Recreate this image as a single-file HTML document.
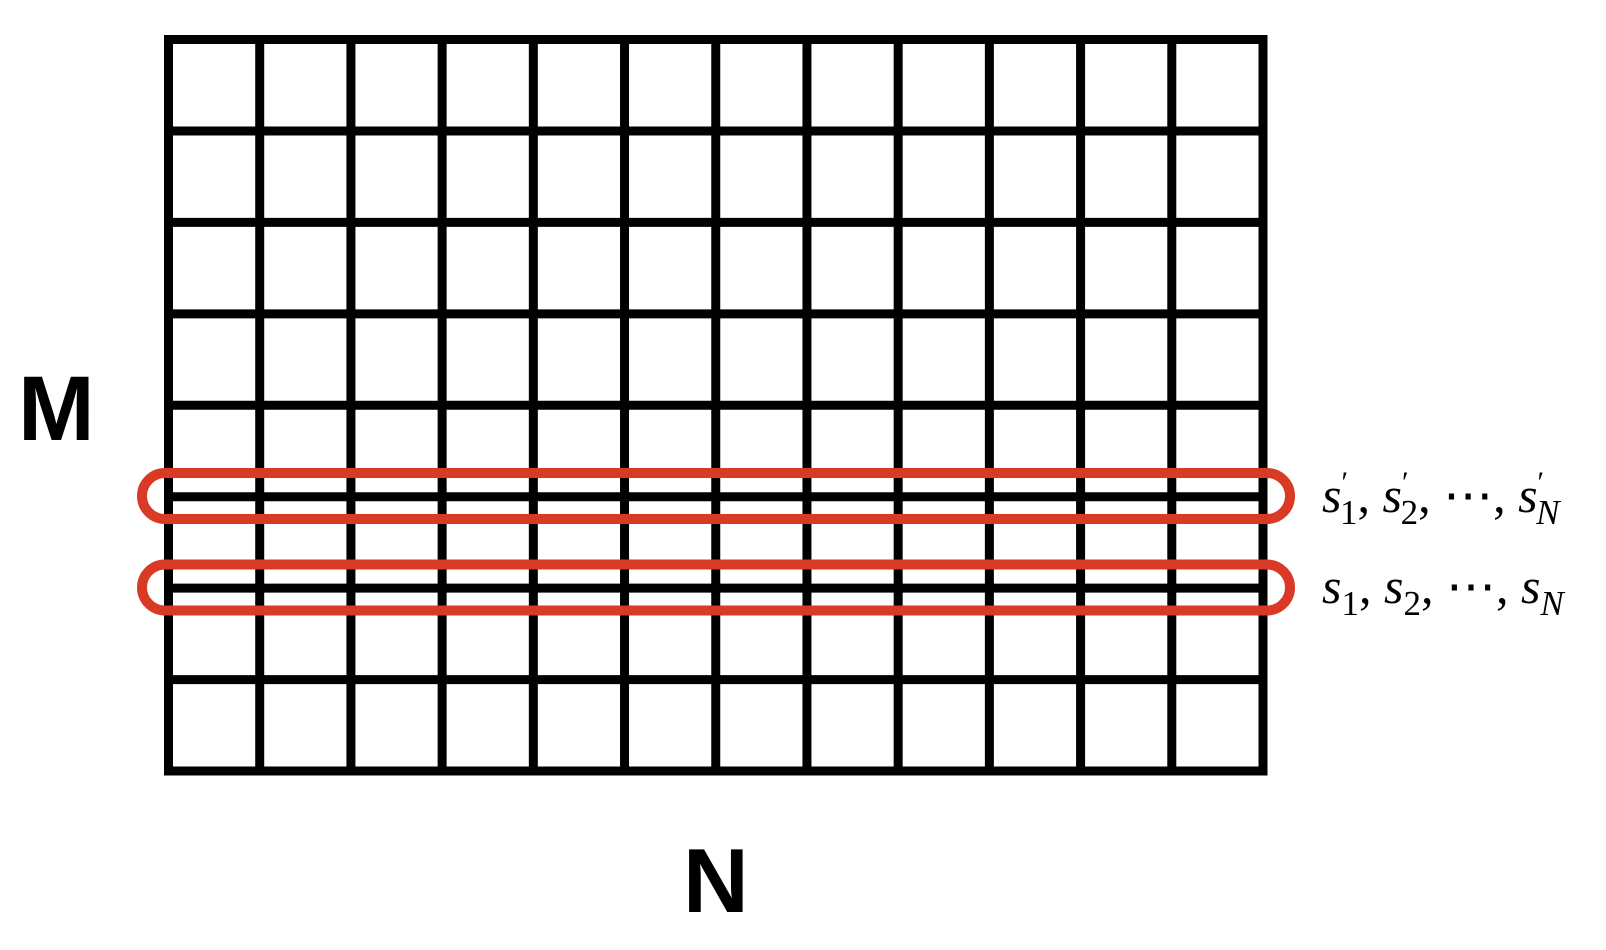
<!DOCTYPE html>
<html><head><meta charset="utf-8"><style>
html,body{margin:0;padding:0;background:#fff;}
svg{display:block;}
.lbl{font-family:"Liberation Serif","DejaVu Serif",serif;font-size:50px;}
</style></head><body>
<svg id="fig" width="1606" height="950" viewBox="0 0 1606 950" xmlns="http://www.w3.org/2000/svg">
  <g id="grid"></g>
  <rect x="142" y="473" width="1148" height="46" rx="23" ry="23" fill="none" stroke="#d93a26" stroke-width="10"/>
  <rect x="142" y="564.5" width="1148" height="46" rx="23" ry="23" fill="none" stroke="#d93a26" stroke-width="10"/>
  <text x="18" y="440" font-family="'Liberation Sans', sans-serif" font-weight="bold" font-size="92">M</text>
  <text x="683" y="912" font-family="'Liberation Sans', sans-serif" font-weight="bold" font-size="91">N</text>
  <text class="lbl" x="1322" y="512"><tspan font-style="italic">s</tspan><tspan dy="-20" font-size="30">′</tspan><tspan dx="-8" dy="32" font-size="35">1</tspan><tspan dy="-12">, </tspan><tspan font-style="italic">s</tspan><tspan dy="-20" font-size="30">′</tspan><tspan dx="-8" dy="32" font-size="35">2</tspan><tspan dy="-12">, ⋯, </tspan><tspan font-style="italic">s</tspan><tspan dy="-20" font-size="30">′</tspan><tspan dx="-8" dy="32" font-size="35" font-style="italic">N</tspan></text>
  <text class="lbl" x="1322" y="603"><tspan font-style="italic">s</tspan><tspan dy="12" font-size="35">1</tspan><tspan dy="-12">, </tspan><tspan font-style="italic">s</tspan><tspan dy="12" font-size="35">2</tspan><tspan dy="-12">, ⋯, </tspan><tspan font-style="italic">s</tspan><tspan dy="12" font-size="35" font-style="italic">N</tspan></text>
</svg>
<script>
const cols = 12;
const rows = 8;
const x0 = 168.5, x1 = 1263, y0 = 39.5, y1 = 771;
const g = document.getElementById('grid');
const NS = 'http://www.w3.org/2000/svg';
for (let i = 0; i <= cols; i++) {
  const x = x0 + (x1 - x0) * i / cols;
  const l = document.createElementNS(NS, 'line');
  l.setAttribute('x1', x); l.setAttribute('x2', x);
  l.setAttribute('y1', y0 - 4.5); l.setAttribute('y2', y1 + 4.5);
  l.setAttribute('stroke', '#000'); l.setAttribute('stroke-width', '9');
  
  
  g.appendChild(l);
}
for (let j = 0; j <= rows; j++) {
  const y = y0 + (y1 - y0) * j / rows;
  const l = document.createElementNS(NS, 'line');
  l.setAttribute('x1', x0 - 4.5); l.setAttribute('x2', x1 + 4.5);
  l.setAttribute('y1', y); l.setAttribute('y2', y);
  l.setAttribute('stroke', '#000'); l.setAttribute('stroke-width', '9');
  
  
  g.appendChild(l);
}
</script>
</body></html>
